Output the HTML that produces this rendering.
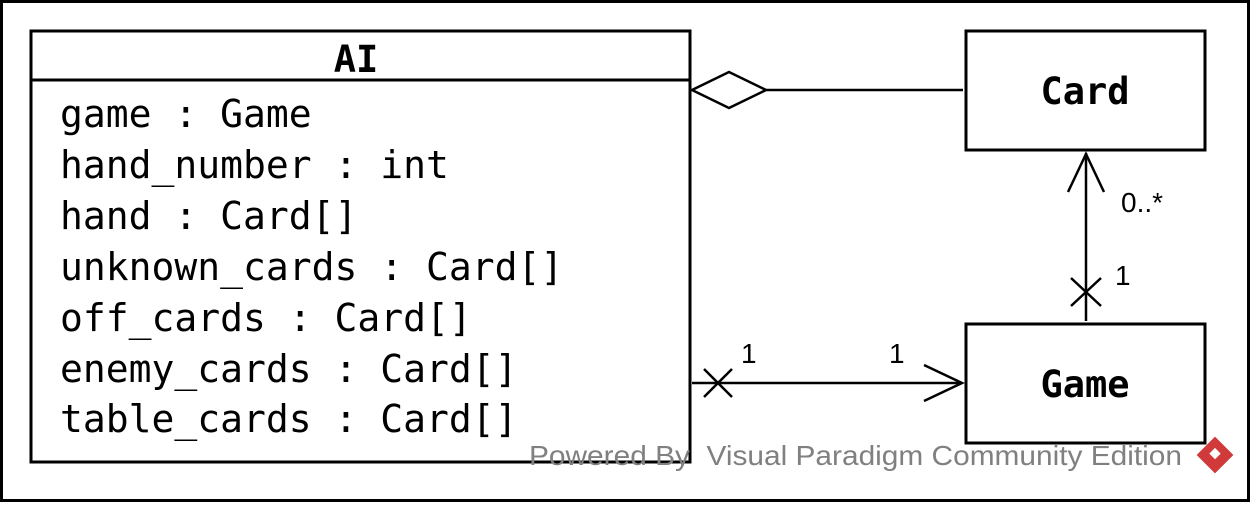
<!DOCTYPE html>
<html><head><style>
body{margin:0;background:#fff;width:1251px;height:504px;overflow:hidden}
</style></head><body>
<svg width="1251" height="504" xmlns="http://www.w3.org/2000/svg">
<rect x="1.5" y="1.5" width="1247" height="499" fill="#fff" stroke="#000" stroke-width="3"/>
<!-- AI -->
<rect x="31" y="31" width="659" height="431" fill="#fff" stroke="#000" stroke-width="3"/>
<line x1="31" y1="80" x2="690" y2="80" stroke="#000" stroke-width="3"/>
<text x="356" y="72" font-family="DejaVu Sans Mono, Liberation Mono, monospace" font-weight="bold" font-size="37" text-anchor="middle">AI</text>
<g font-family="DejaVu Sans Mono, Liberation Mono, monospace" font-size="38" fill="#000">
<text x="60" y="127">game : Game</text>
<text x="60" y="178">hand_number : int</text>
<text x="60" y="229">hand : Card[]</text>
<text x="60" y="280">unknown_cards : Card[]</text>
<text x="60" y="331">off_cards : Card[]</text>
<text x="60" y="382">enemy_cards : Card[]</text>
<text x="60" y="432">table_cards : Card[]</text>
</g>
<!-- Card -->
<rect x="966" y="31" width="239" height="119" fill="#fff" stroke="#000" stroke-width="3"/>
<text x="1085" y="104" font-family="DejaVu Sans Mono, Liberation Mono, monospace" font-weight="bold" font-size="37" text-anchor="middle">Card</text>
<!-- Game -->
<rect x="966" y="324" width="239" height="119" fill="#fff" stroke="#000" stroke-width="3"/>
<text x="1085" y="397" font-family="DejaVu Sans Mono, Liberation Mono, monospace" font-weight="bold" font-size="37" text-anchor="middle">Game</text>
<!-- aggregation -->
<polygon points="692,90 729,72 766,90 729,108" fill="#fff" stroke="#000" stroke-width="2.5"/>
<line x1="766" y1="90" x2="963" y2="90" stroke="#000" stroke-width="2.5"/>
<!-- Card-Game -->
<line x1="1086" y1="153" x2="1086" y2="321" stroke="#000" stroke-width="2.5"/>
<polyline points="1068,192 1086,154 1104,192" fill="none" stroke="#000" stroke-width="2.5"/>
<line x1="1071" y1="278" x2="1101" y2="306" stroke="#000" stroke-width="2.5"/>
<line x1="1101" y1="278" x2="1071" y2="306" stroke="#000" stroke-width="2.5"/>
<g font-family="Liberation Sans, sans-serif" font-size="28">
<text x="1121" y="212">0..*</text>
<text x="1115" y="285">1</text>
<text x="741" y="363">1</text>
<text x="889" y="363">1</text>
</g>
<!-- AI-Game -->
<line x1="692" y1="383" x2="962" y2="383" stroke="#000" stroke-width="2.5"/>
<polyline points="924,365 962,383 924,401" fill="none" stroke="#000" stroke-width="2.5"/>
<line x1="704" y1="369" x2="732" y2="397" stroke="#000" stroke-width="2.5"/>
<line x1="732" y1="369" x2="704" y2="397" stroke="#000" stroke-width="2.5"/>
<!-- watermark -->
<text x="529" y="465" font-family="Liberation Sans, sans-serif" font-size="28" fill="#808080" textLength="653" lengthAdjust="spacingAndGlyphs" xml:space="preserve">Powered By  Visual Paradigm Community Edition</text>
<g transform="translate(1215,455) rotate(45)">
<rect x="-13" y="-13" width="26" height="26" fill="#d03a3a"/>
<rect x="-5" y="-5" width="8" height="8" fill="#fff"/>
</g>
</svg>
</body></html>
